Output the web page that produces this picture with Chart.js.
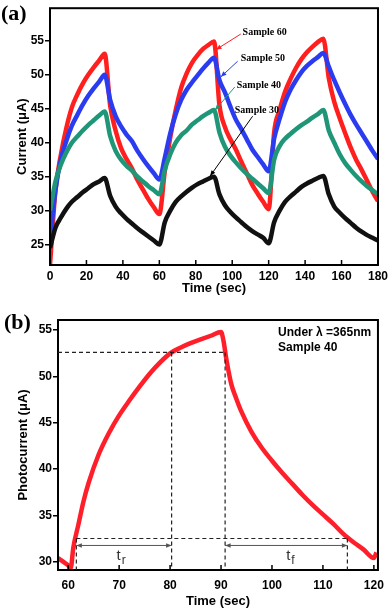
<!DOCTYPE html>
<html>
<head>
<meta charset="utf-8">
<title>Photocurrent response</title>
<script src="https://cdn.jsdelivr.net/npm/chart.js"></script>
<style>
  body { margin: 0; background: #fff; }
  .box { position: absolute; left: 0; width: 392px; height: 300px; }
  #boxA { top: 0; }
  #boxB { top: 310px; }
</style>
</head>
<body>
<div class="box" id="boxA"><canvas id="chartA"></canvas></div>
<div class="box" id="boxB"><canvas id="chartB"></canvas></div>
<script>
// ---- (a) on/off cycles, 4 samples ----
var timeA = [0,3,6,9,12,15,18,21,24,27,30,33,36,39,42,45,48,51,54,57,60,
             63,66,69,72,75,78,81,84,87,90,93,96,99,102,105,108,111,114,117,120,
             123,126,129,132,135,138,141,144,147,150,153,156,159,162,165,168,171,174,177,180];
var sample60 = [22,33,38.3,42.2,45.2,47.1,48.7,50.0,51.1,52.1,53.1,
                45.5,41.8,39.2,37.6,36.2,34.5,33.1,31.7,30.5,29.5,
                35.8,40.8,44.8,48.1,50.2,51.8,52.9,53.8,54.4,54.9,
                45.5,42.3,40.5,39.0,37.2,35.5,33.8,32.5,31.3,30.2,
                41.5,44.8,47.5,49.4,51.0,52.3,53.3,54.1,54.8,55.3,
                49.5,46.0,43.6,41.4,39.3,37.5,36.0,34.4,32.8,31.4];
var sample50 = [25.5,33,37.6,40.3,42.5,44.1,45.6,46.9,48.0,49.0,50.0,
                46.3,43.9,42.4,41.2,40.2,38.8,37.6,36.5,35.5,34.6,
                37.8,41.4,44.2,46.3,47.8,48.9,49.9,50.9,51.8,52.5,
                49.2,47.4,45.3,43.4,42.0,40.5,39.0,37.9,36.8,35.8,
                40.6,43.5,46.0,47.8,49.2,50.4,51.3,52.0,52.6,53.2,
                51.2,49.2,47.4,45.7,44.1,42.7,41.4,40.1,38.8,37.6];
var sample40 = [30.0,34.3,36.8,38.6,40.0,40.9,41.8,42.6,43.3,44.0,44.6,
                41.0,38.8,37.5,36.6,35.9,35.0,34.3,33.6,33.0,32.4,
                36.0,38.3,40.0,41.1,41.8,42.7,43.3,43.9,44.4,44.8,
                41.5,39.4,38.1,37.1,36.2,35.4,34.7,34.0,33.3,32.6,
                37.5,39.5,40.6,41.3,42.0,42.6,43.1,43.7,44.2,44.8,
                41.8,40.0,38.3,37.0,36.0,35.1,34.3,33.6,33.0,32.4];
var sample30 = [24.5,27.5,29.0,30.3,31.3,32.0,32.7,33.3,33.9,34.3,34.8,
                32.2,30.6,29.6,28.8,28.1,27.4,26.8,26.2,25.6,25.0,
                28.3,30.0,31.3,32.1,32.8,33.4,33.9,34.3,34.7,35.0,
                32.4,30.8,29.8,29.0,28.3,27.6,27.0,26.5,26.0,25.2,
                28.3,30.0,31.3,32.1,32.8,33.5,34.0,34.4,34.8,35.1,
                32.4,30.6,29.7,28.9,28.2,27.5,26.9,26.4,26.0,25.6];

// ---- (b) one cycle of sample 40 ----
var timeB = [58,59,60,60.5,61,62,63,64,66,68,70,72,74,76,78,80,82,84,86,88,
             90,90.5,91,92,93,94,96,98,100,102,104,106,108,110,112,114,116,118,120,120.5];
var photo = [30.4,30.0,29.6,29.3,31.5,34.0,36.5,38.5,41.6,43.9,45.8,47.4,48.9,50.3,51.5,52.5,53.1,53.6,54.0,54.4,
             54.8,53.8,52.0,49.2,47.6,46.2,44.0,42.3,40.9,39.6,38.4,37.2,36.1,35.1,34.1,33.0,32.1,31.3,30.4,31.0];

function pts(xs, ys) {
  return xs.map(function (x, i) { return { x: x, y: ys[i] }; });
}

var tickFont = { family: 'Liberation Sans', weight: 'bold', size: 12 };
var titleFont = { family: 'Liberation Sans', weight: 'bold', size: 13 };

// box around plot + inward ticks on x axis
var frame = {
  id: 'frame',
  afterDraw: function (chart) {
    var ctx = chart.ctx, a = chart.chartArea, xs = chart.scales.x;
    ctx.save();
    ctx.strokeStyle = '#000';
    ctx.lineWidth = 2;
    ctx.strokeRect(a.left, a.top, a.right - a.left, a.bottom - a.top);
    ctx.lineWidth = 1.5;
    xs.ticks.forEach(function (t) {
      var px = xs.getPixelForValue(t.value);
      ctx.beginPath();
      ctx.moveTo(px, a.bottom);
      ctx.lineTo(px, a.bottom - 5);
      ctx.stroke();
    });
    ctx.restore();
  }
};

function arrowHead(ctx, x0, y0, x1, y1, size) {
  var ang = Math.atan2(y1 - y0, x1 - x0);
  ctx.beginPath();
  ctx.moveTo(x1, y1);
  ctx.lineTo(x1 - size * Math.cos(ang - 0.4), y1 - size * Math.sin(ang - 0.4));
  ctx.lineTo(x1 - size * Math.cos(ang + 0.4), y1 - size * Math.sin(ang + 0.4));
  ctx.closePath();
  ctx.fill();
}

// sample labels with arrows, in data units
var notesA = [
  { text: 'Sample 60', color: '#ff1f1f', at: [105.7, 56.3], from: [104.7, 56.0], to: [91.1, 53.7] },
  { text: 'Sample 50', color: '#2b3cf0', at: [104.7, 52.4], from: [103.0, 52.0], to: [93.8, 49.7] },
  { text: 'Sample 40', color: '#1f9677', at: [102.5, 48.5], from: [101.4, 48.2], to: [90.6, 44.8] },
  { text: 'Sample 30', color: '#000000', at: [101.4, 44.8], from: [111.2, 43.9], to: [87.9, 35.1] }
];

var notesPluginA = {
  id: 'notesA',
  afterDraw: function (chart) {
    var ctx = chart.ctx, xs = chart.scales.x, ys = chart.scales.y;
    ctx.save();
    notesA.forEach(function (n) {
      var x0 = xs.getPixelForValue(n.from[0]), y0 = ys.getPixelForValue(n.from[1]);
      var x1 = xs.getPixelForValue(n.to[0]), y1 = ys.getPixelForValue(n.to[1]);
      ctx.strokeStyle = n.color;
      ctx.fillStyle = n.color;
      ctx.lineWidth = 1;
      ctx.beginPath();
      ctx.moveTo(x0, y0);
      ctx.lineTo(x1, y1);
      ctx.stroke();
      arrowHead(ctx, x0, y0, x1, y1, 6);
      ctx.fillStyle = '#000';
      ctx.font = 'bold 10px "Liberation Serif"';
      ctx.textBaseline = 'middle';
      ctx.fillText(n.text, xs.getPixelForValue(n.at[0]), ys.getPixelForValue(n.at[1]));
    });
    ctx.font = 'bold 22px "Liberation Serif"';
    ctx.textBaseline = 'top';
    ctx.fillText('(a)', 1, 3);
    ctx.restore();
  }
};

// guide lines for rise / fall time
var guideLines = [
  [58, 52.6, 90.8, 52.6], [80.3, 52.6, 80.3, 29.1], [90.8, 52.6, 90.8, 29.1],
  [61.6, 32.5, 114.8, 32.5], [61.6, 32.5, 61.6, 29.1], [114.8, 32.5, 114.8, 29.1]
];
var spans = [
  { from: 61.6, to: 80.3, y: 31.75, sub: 'r', label: [69.9, 30.65] },
  { from: 90.8, to: 114.8, y: 31.75, sub: 'f', label: [103.2, 30.65] }
];

var notesPluginB = {
  id: 'notesB',
  afterDraw: function (chart) {
    var ctx = chart.ctx, xs = chart.scales.x, ys = chart.scales.y;
    ctx.save();
    ctx.strokeStyle = '#222';
    ctx.lineWidth = 1.2;
    ctx.setLineDash([4, 3]);
    guideLines.forEach(function (g) {
      ctx.beginPath();
      ctx.moveTo(xs.getPixelForValue(g[0]), ys.getPixelForValue(g[1]));
      ctx.lineTo(xs.getPixelForValue(g[2]), ys.getPixelForValue(g[3]));
      ctx.stroke();
    });
    ctx.setLineDash([]);
    ctx.strokeStyle = '#555';
    ctx.fillStyle = '#555';
    ctx.lineWidth = 1;
    spans.forEach(function (s) {
      var xa = xs.getPixelForValue(s.from), xb = xs.getPixelForValue(s.to), yy = ys.getPixelForValue(s.y);
      ctx.beginPath();
      ctx.moveTo(xa, yy);
      ctx.lineTo(xb, yy);
      ctx.stroke();
      arrowHead(ctx, xb, yy, xa, yy, 6);
      arrowHead(ctx, xa, yy, xb, yy, 6);
      var lx = xs.getPixelForValue(s.label[0]), ly = ys.getPixelForValue(s.label[1]);
      ctx.fillStyle = '#333';
      ctx.font = '15px "Liberation Sans"';
      ctx.textBaseline = 'middle';
      ctx.textAlign = 'center';
      ctx.fillText('t', lx, ly);
      ctx.font = '12px "Liberation Sans"';
      ctx.textAlign = 'left';
      ctx.fillText(s.sub, lx + 3, ly + 5);
      ctx.fillStyle = '#555';
    });
    ctx.fillStyle = '#000';
    ctx.textAlign = 'left';
    ctx.textBaseline = 'middle';
    ctx.font = 'bold 12px "Liberation Sans"';
    ctx.fillText('Under \u03bb =365nm', xs.getPixelForValue(101.2), ys.getPixelForValue(54.7));
    ctx.fillText('Sample 40', xs.getPixelForValue(101.2), ys.getPixelForValue(53.1));
    ctx.font = 'bold 22px "Liberation Serif"';
    ctx.textBaseline = 'top';
    ctx.fillText('(b)', 4, 2);
    ctx.restore();
  }
};

function lineSet(label, xs, ys, color) {
  return {
    label: label,
    data: pts(xs, ys),
    borderColor: color,
    borderWidth: 4.5,
    pointRadius: 0,
    cubicInterpolationMode: 'monotone',
    fill: false
  };
}

function axes(o) {
  return {
    x: {
      type: 'linear', min: o.xmin, max: o.xmax,
      grid: { display: false, drawTicks: false }, border: { display: false },
      ticks: { stepSize: o.xstep, includeBounds: false, font: tickFont, color: '#000', padding: o.xpad, maxRotation: 0 },
      title: { display: true, text: 'Time (sec)', font: titleFont, color: '#000', padding: { top: 0, bottom: o.xtitlePad } },
      afterFit: function (s) { s.height = o.xh; }
    },
    y: {
      min: o.ymin, max: o.ymax,
      grid: { drawOnChartArea: false, color: '#000', lineWidth: 1.5, tickLength: 5 },
      border: { display: false },
      ticks: { stepSize: 5, includeBounds: false, font: tickFont, color: '#000', padding: 1 },
      title: { display: true, text: o.ytitle, font: titleFont, color: '#000', padding: { top: o.ytitlePad, bottom: 0 } },
      afterFit: function (s) { s.width = o.yw; }
    }
  };
}

new Chart(document.getElementById('chartA'), {
  type: 'line',
  data: {
    datasets: [
      lineSet('Sample 30', timeA, sample30, '#111111'),
      lineSet('Sample 40', timeA, sample40, '#1f9677'),
      lineSet('Sample 50', timeA, sample50, '#2b3cf0'),
      lineSet('Sample 60', timeA, sample60, '#ff1f1f')
    ]
  },
  options: {
    responsive: true, maintainAspectRatio: false, animation: false,
    layout: { padding: { top: 3, right: 10, left: 0, bottom: 0 } },
    plugins: { legend: { display: false }, tooltip: { enabled: false } },
    scales: axes({ xmin: 0, xmax: 180, xstep: 20, ymin: 22, ymax: 59.8, xh: 35, yw: 50,
                   xpad: 4, xtitlePad: 4, ytitlePad: 15, ytitle: 'Current (\u03bcA)' })
  },
  plugins: [frame, notesPluginA]
});

new Chart(document.getElementById('chartB'), {
  type: 'line',
  data: {
    datasets: [lineSet('Sample 40', timeB, photo, '#ff1f2a')]
  },
  options: {
    responsive: true, maintainAspectRatio: false, animation: false,
    layout: { padding: { top: 10, right: 9, left: 0, bottom: 0 } },
    plugins: { legend: { display: false }, tooltip: { enabled: false } },
    scales: axes({ xmin: 58, xmax: 120.8, xstep: 10, ymin: 29.1, ymax: 56.1, xh: 40, yw: 58,
                   xpad: 8, xtitlePad: 1, ytitlePad: 16, ytitle: 'Photocurrent (\u03bcA)' })
  },
  plugins: [frame, notesPluginB]
});
</script>
</body>
</html>
